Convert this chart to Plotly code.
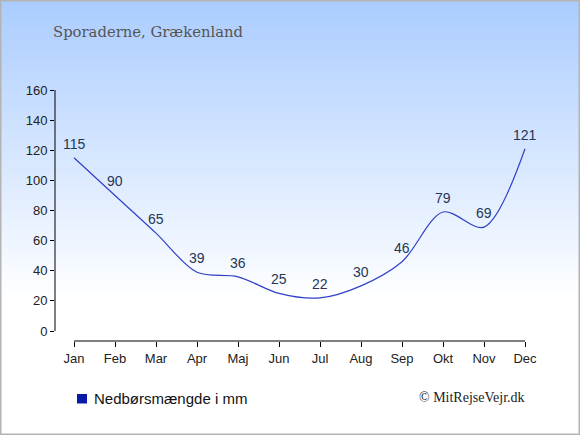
import plotly.graph_objects as go

months = ["Jan", "Feb", "Mar", "Apr", "Maj", "Jun", "Jul", "Aug", "Sep", "Okt", "Nov", "Dec"]
rain = [115, 90, 65, 39, 36, 25, 22, 30, 46, 79, 69, 121]
y_ticks = [0, 20, 40, 60, 80, 100, 120, 140, 160]
title_text = "Sporaderne, Grækenland"
legend_text = "Nedbørsmængde i mm"
credit_text = "© MitRejseVejr.dk"

W, H = 580, 435
ML, MR, MT, MB = 55, 40, 90, 94
pw = W - ML - MR
ph = H - MT - MB

def px_x(p):
    return (p - ML) / pw

def px_y(p):
    return 1 - (p - MT) / ph

idx = list(range(len(months)))

fig = go.Figure()
fig.add_trace(go.Scatter(
    x=idx, y=rain, mode="lines",
    line=dict(color="#3040c8", width=1.2, shape="spline", smoothing=0.9),
    showlegend=False, hoverinfo="x+y",
))

shapes = []
# gradient background
n = 60
top = (170, 204, 255)
grad_end = 300
for i in range(n):
    y0 = grad_end * i / n
    y1 = grad_end * (i + 1) / n + 0.5
    t = (i + 0.5) / n
    c = tuple(int(round(top[k] + (255 - top[k]) * t)) for k in range(3))
    shapes.append(dict(type="rect", xref="paper", yref="paper",
                       x0=px_x(0), x1=px_x(W), y0=px_y(y1), y1=px_y(y0),
                       fillcolor="rgb(%d,%d,%d)" % c, line=dict(width=0), layer="below"))
# border
shapes.append(dict(type="rect", xref="paper", yref="paper",
                   x0=px_x(0.75), x1=px_x(W - 0.75), y0=px_y(H - 0.75), y1=px_y(0.75),
                   line=dict(color="#b4b4b4", width=1.5), fillcolor="rgba(0,0,0,0)", layer="above"))
# y axis line
shapes.append(dict(type="line", xref="paper", yref="y", x0=0, x1=0, y0=0, y1=160,
                   line=dict(color="#000", width=1)))
# x axis line
shapes.append(dict(type="line", xref="x", yref="paper", x0=0, x1=11, y0=0, y1=0,
                   line=dict(color="#000", width=1)))
# legend square
shapes.append(dict(type="rect", xref="paper", yref="paper",
                   x0=px_x(77), x1=px_x(87), y0=px_y(403.5), y1=px_y(394),
                   fillcolor="#0a1aa8", line=dict(width=0)))

annotations = [
    dict(text=title_text, xref="paper", yref="paper", x=px_x(51), y=px_y(32),
         xanchor="left", yanchor="middle", showarrow=False,
         font=dict(family="DejaVu Serif", size=14.8, color="#555555")),
    dict(text=legend_text, xref="paper", yref="paper", x=px_x(92), y=px_y(398.5),
         xanchor="left", yanchor="middle", showarrow=False,
         font=dict(family="Liberation Sans, Arial", size=15, color="#111111")),
    dict(text=credit_text, xref="paper", yref="paper", x=px_x(527), y=px_y(397.5),
         xanchor="right", yanchor="middle", showarrow=False,
         font=dict(family="Liberation Serif", size=14, color="#222222")),
]
for m, v in zip(idx, rain):
    annotations.append(dict(text=str(v), x=m, y=v, xref="x", yref="y",
                            showarrow=False, xanchor="center", yanchor="middle",
                            yshift=14,
                            font=dict(family="Liberation Sans, Arial", size=14, color="#263656")))

fig.update_layout(
    width=W, height=H,
    margin=dict(l=ML, r=MR, t=MT, b=MB, pad=0),
    paper_bgcolor="white", plot_bgcolor="rgba(0,0,0,0)",
    shapes=shapes, annotations=annotations,
    xaxis=dict(range=[-19 / 41, 11 + 15 / 41], tickvals=idx, ticktext=months,
               showgrid=False, zeroline=False, showline=False,
               ticks="outside", ticklen=5, tickcolor="#000", tickwidth=1,
               tickfont=dict(family="Liberation Sans, Arial", size=13, color="#222")),
    yaxis=dict(range=[-6.6, 160], tickvals=y_ticks,
               showgrid=False, zeroline=False, showline=False,
               ticks="outside", ticklen=4, tickcolor="#000", tickwidth=1,
               tickfont=dict(family="Liberation Sans, Arial", size=13, color="#222")),
)

fig.write_html("out.html", config={"displayModeBar": False},
               post_script="document.body.style.margin='0';document.body.style.overflow='hidden';")
